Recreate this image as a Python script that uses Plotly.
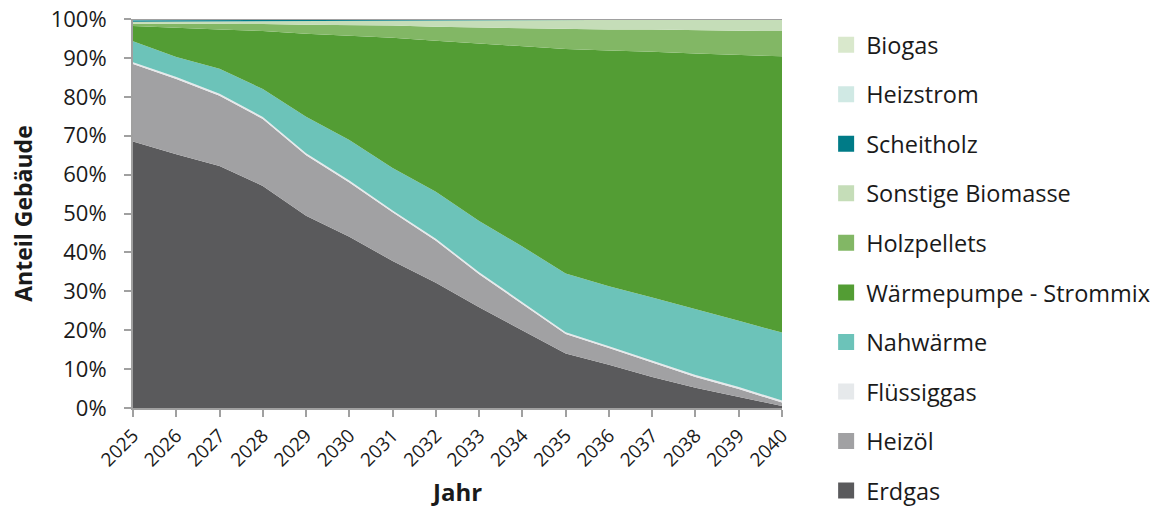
import plotly.graph_objects as go

# Jahre der Betrachtung
years = list(range(2025, 2041))

# Anteile der Gebäude je Heizungsart in Prozent (gestapelt, unten -> oben)
erdgas = [68.5, 65.2, 62.2, 57.1, 49.4, 44.0, 37.8, 32.2, 25.9, 20.0, 14.0, 11.1, 8.0, 5.2, 2.9, 0.5]
heizoel = [19.9, 19.4, 18.1, 17.2, 15.6, 14.0, 12.5, 10.8, 8.5, 6.7, 5.0, 4.3, 3.7, 2.8, 2.0, 0.9]
fluessiggas = [0.5] * 16
nahwaerme = [5.4, 5.1, 6.4, 7.2, 9.4, 10.4, 10.9, 12.1, 13.2, 14.3, 15.1, 15.4, 16.2, 16.8, 17.0, 17.5]
waermepumpe = [3.9, 7.5, 10.1, 14.9, 21.3, 26.8, 33.5, 38.8, 45.6, 51.6, 57.7, 60.6, 63.2, 65.8, 68.4, 71.0]
holzpellets = [0.6, 1.1, 1.5, 1.8, 2.3, 2.7, 3.1, 3.6, 4.1, 4.6, 5.1, 5.4, 5.7, 6.0, 6.2, 6.5]
sonstige_biomasse = [0.5, 0.54, 0.6, 0.75, 1.0, 1.15, 1.3, 1.65, 1.88, 2.0, 2.34, 2.47, 2.49, 2.74, 2.89, 3.01]
scheitholz = [0.4, 0.38, 0.36, 0.34, 0.32, 0.3, 0.28, 0.26, 0.24, 0.22, 0.2, 0.18, 0.16, 0.12, 0.08, 0.06]
heizstrom = [0.2, 0.18, 0.16, 0.14, 0.12, 0.1, 0.08, 0.06, 0.05, 0.05, 0.04, 0.03, 0.03, 0.02, 0.02, 0.02]
biogas = [0.1, 0.1, 0.08, 0.07, 0.06, 0.05, 0.04, 0.03, 0.03, 0.03, 0.02, 0.02, 0.02, 0.02, 0.01, 0.01]

y_ticks = list(range(0, 101, 10))

series = [
    ("Erdgas", erdgas, "#5a5a5c"),
    ("Heizöl", heizoel, "#a1a1a3"),
    ("Flüssiggas", fluessiggas, "#e6e9eb"),
    ("Nahwärme", nahwaerme, "#6cc3b9"),
    ("Wärmepumpe - Strommix", waermepumpe, "#539d34"),
    ("Holzpellets", holzpellets, "#82b765"),
    ("Sonstige Biomasse", sonstige_biomasse, "#c5ddb8"),
    ("Scheitholz", scheitholz, "#007b87"),
    ("Heizstrom", heizstrom, "#d0e9e4"),
    ("Biogas", biogas, "#d9e8cc"),
]

FONT = "'Open Sans', sans-serif"
AXIS_GREY = "#a0a0a0"

fig = go.Figure()

for name, values, color in series:
    fig.add_trace(go.Scatter(
        x=years, y=values, name=name, stackgroup="anteile",
        mode="lines", line=dict(width=0, color=color),
        fillcolor=color, showlegend=False, hoverinfo="x+y+name",
    ))

# Legendeneinträge mit quadratischen Symbolen, oberste Fläche zuerst
for i, (name, values, color) in enumerate(reversed(series)):
    fig.add_trace(go.Scatter(
        x=[None], y=[None], name=name, mode="markers",
        marker=dict(symbol="square", size=16, color=color),
        legendgroup=f"g{i}", showlegend=True,
    ))

fig.add_shape(type="line", xref="paper", yref="y", x0=0, x1=1, y0=100, y1=100,
              line=dict(color=AXIS_GREY, width=2))

fig.update_layout(
    width=1161, height=508,
    margin=dict(l=133, r=379, t=19, b=100, autoexpand=False),
    paper_bgcolor="white", plot_bgcolor="white",
    font=dict(family=FONT, color="#1a1a1a"),
    showlegend=True,
    legend=dict(
        x=1.068, xanchor="left", y=0.99, yanchor="top",
        traceorder="grouped", tracegroupgap=16,
        font=dict(size=23.5, family=FONT, color="#1a1a1a"),
        itemwidth=30, bgcolor="rgba(0,0,0,0)", maxheight=2000,
    ),
    xaxis=dict(
        range=[2025, 2040], tickmode="array", tickvals=years,
        ticktext=[str(y) for y in years], tickangle=-45,
        tickfont=dict(size=19, family=FONT),
        ticks="outside", ticklen=7, tickwidth=2, tickcolor=AXIS_GREY,
        showline=True, linecolor=AXIS_GREY, linewidth=2,
        showgrid=False, zeroline=False,
        title=dict(text="<b>Jahr</b>", font=dict(size=24, family=FONT), standoff=24),
    ),
    yaxis=dict(
        range=[0, 100], tickmode="array", tickvals=y_ticks,
        ticktext=[f"{v}%" for v in y_ticks],
        tickfont=dict(size=22, family=FONT),
        ticks="outside", ticklen=7, tickwidth=2, tickcolor=AXIS_GREY,
        ticklabelstandoff=13,
        showline=True, linecolor=AXIS_GREY, linewidth=2,
        showgrid=False, zeroline=False,
        title=dict(text="<b>Anteil Gebäude</b>", font=dict(size=23, family=FONT), standoff=12),
    ),
)

fig.write_html("out.html")
